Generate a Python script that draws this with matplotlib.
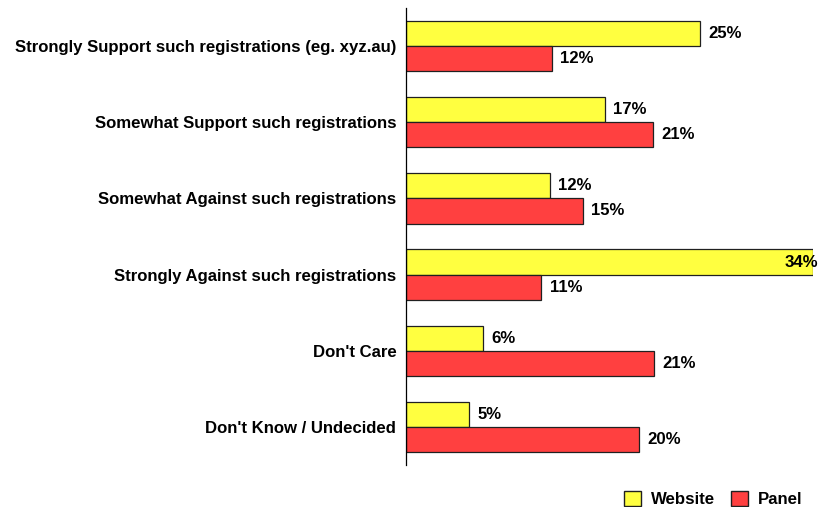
import matplotlib.pyplot as plt
import numpy as np
from matplotlib.patches import Patch

plt.rcParams['font.family'] = ['Liberation Sans', 'DejaVu Sans']

categories = [
    "Strongly Support such registrations (eg. xyz.au)",
    "Somewhat Support such registrations",
    "Somewhat Against such registrations",
    "Strongly Against such registrations",
    "Don't Care",
    "Don't Know / Undecided",
]
# values (labels show them rounded)
website = [24.6, 16.6, 12.0, 34.0, 6.4, 5.3]
panel = [12.2, 20.6, 14.8, 11.3, 20.7, 19.5]

yellow = "#FFFF40"
red = "#FF4040"
fs = 12.1

fig = plt.figure(figsize=(8.2, 5.07), dpi=100)
ax = fig.add_axes([406 / 820, 1 - 465 / 507, 407 / 820, 457 / 507])

y = np.arange(len(categories))
h = 0.33
ax.barh(y - h / 2, website, height=h, color=yellow, edgecolor="#202020", linewidth=0.9)
ax.barh(y + h / 2, panel, height=h, color=red, edgecolor="#202020", linewidth=0.9)

xmax = 34.0
ax.set_xlim(0, xmax)
ax.set_ylim(len(categories) - 0.5, -0.5)

for yy, vals in [(y - h / 2, website), (y + h / 2, panel)]:
    for yi, v in zip(yy, vals):
        label = f"{v:.0f}%"
        if v > xmax - 3:
            ax.annotate(label, (xmax, yi), xytext=(4, 0), textcoords="offset points",
                        ha="right", va="center", fontsize=fs, fontweight="bold",
                        annotation_clip=False)
        else:
            ax.annotate(label, (v, yi), xytext=(6, 0), textcoords="offset points",
                        ha="left", va="center", fontsize=fs, fontweight="bold")

ax.set_yticks(y)
ax.set_yticklabels(categories, fontsize=fs, fontweight="bold")
ax.tick_params(axis="y", length=0, pad=7)
ax.set_xticks([])
for s in ["top", "right", "bottom"]:
    ax.spines[s].set_visible(False)
ax.spines["left"].set_linewidth(0.9)

handles = [Patch(facecolor=yellow, edgecolor="#202020", label="Website"),
           Patch(facecolor=red, edgecolor="#202020", label="Panel")]
fig.legend(handles=handles, loc="lower right", bbox_to_anchor=(0.997, -0.03), ncol=2,
           frameon=False, prop={"weight": "bold", "size": fs},
           handlelength=1.0, handleheight=1.0, columnspacing=0.95, handletextpad=0.6)

fig.savefig("out.png", dpi=100)
